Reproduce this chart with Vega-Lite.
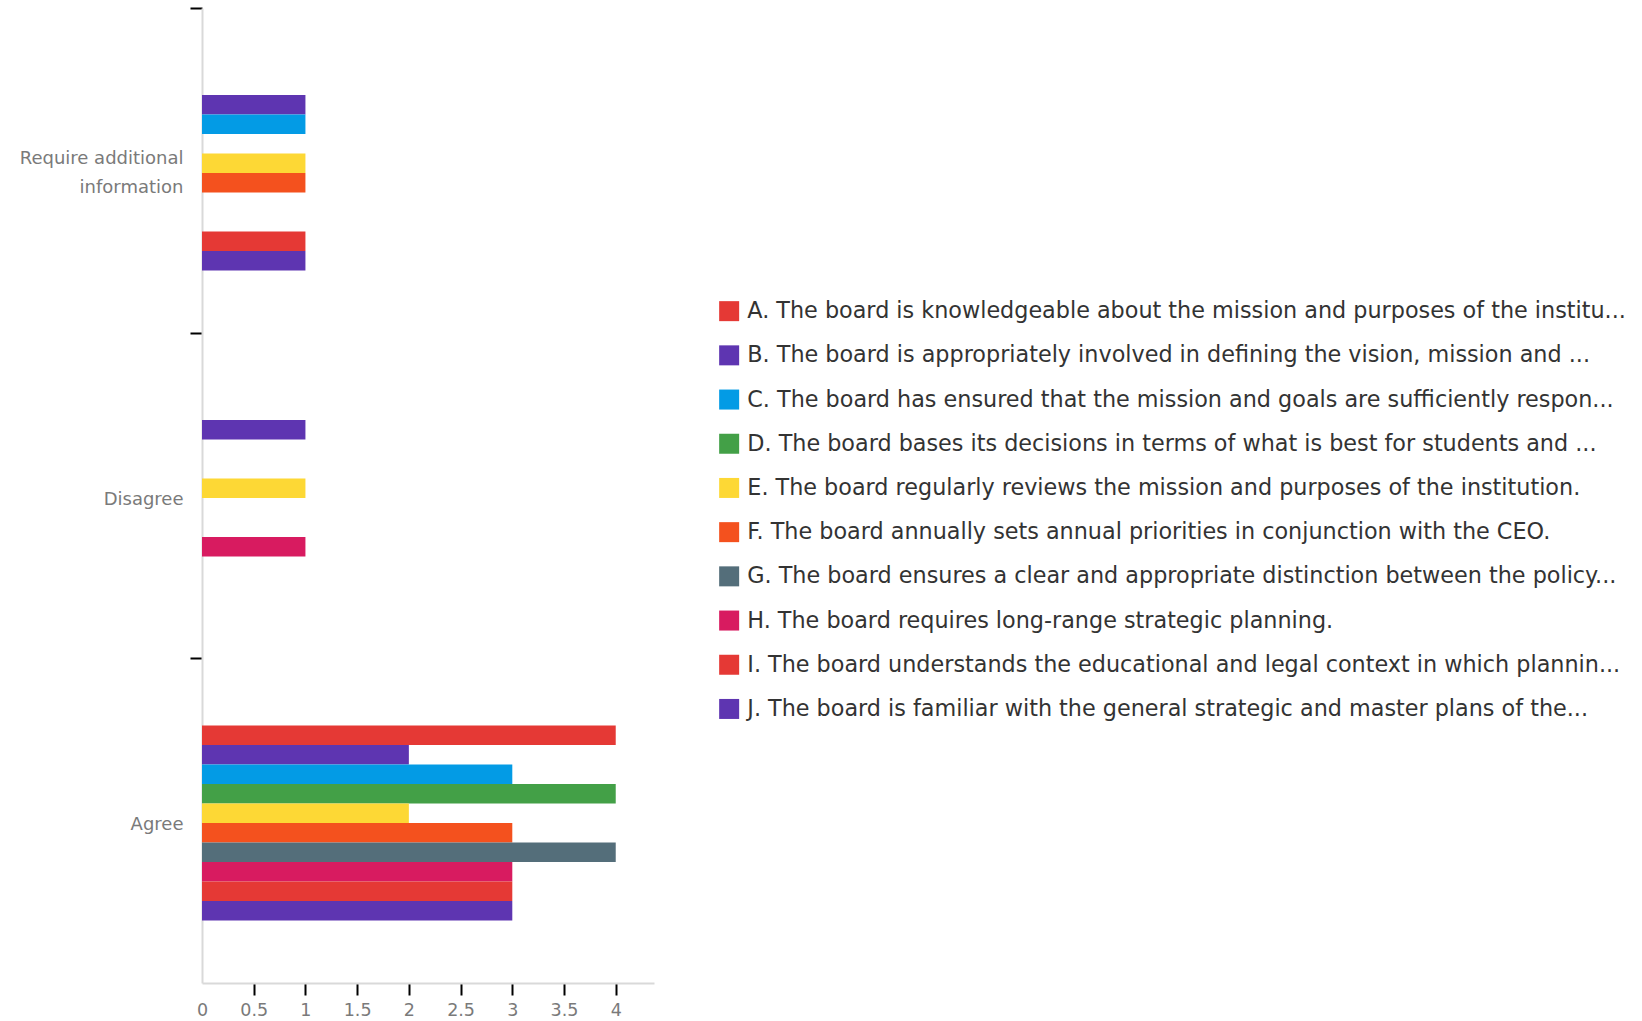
{
  "$schema": "https://vega.github.io/schema/vega-lite/v6.json",
  "width": 452,
  "height": 975,
  "autosize": "none",
  "padding": {"left": 202, "top": 8, "right": 988, "bottom": 38},
  "background": "white",
  "config": {"view": {"stroke": null}, "font": "DejaVu Sans"},
  "data": {
    "values": [
      {"response": "Require additional information", "statement": "B. The board is appropriately involved in defining the vision, mission and ...", "count": 1},
      {"response": "Require additional information", "statement": "C. The board has ensured that the mission and goals are sufficiently respon...", "count": 1},
      {"response": "Require additional information", "statement": "E. The board regularly reviews the mission and purposes of the institution.", "count": 1},
      {"response": "Require additional information", "statement": "F. The board annually sets annual priorities in conjunction with the CEO.", "count": 1},
      {"response": "Require additional information", "statement": "I. The board understands the educational and legal context in which plannin...", "count": 1},
      {"response": "Require additional information", "statement": "J. The board is familiar with the general strategic and master plans of the...", "count": 1},
      {"response": "Disagree", "statement": "B. The board is appropriately involved in defining the vision, mission and ...", "count": 1},
      {"response": "Disagree", "statement": "E. The board regularly reviews the mission and purposes of the institution.", "count": 1},
      {"response": "Disagree", "statement": "H. The board requires long-range strategic planning.", "count": 1},
      {"response": "Agree", "statement": "A. The board is knowledgeable about the mission and purposes of the institu...", "count": 4},
      {"response": "Agree", "statement": "B. The board is appropriately involved in defining the vision, mission and ...", "count": 2},
      {"response": "Agree", "statement": "C. The board has ensured that the mission and goals are sufficiently respon...", "count": 3},
      {"response": "Agree", "statement": "D. The board bases its decisions in terms of what is best for students and ...", "count": 4},
      {"response": "Agree", "statement": "E. The board regularly reviews the mission and purposes of the institution.", "count": 2},
      {"response": "Agree", "statement": "F. The board annually sets annual priorities in conjunction with the CEO.", "count": 3},
      {"response": "Agree", "statement": "G. The board ensures a clear and appropriate distinction between the policy...", "count": 4},
      {"response": "Agree", "statement": "H. The board requires long-range strategic planning.", "count": 3},
      {"response": "Agree", "statement": "I. The board understands the educational and legal context in which plannin...", "count": 3},
      {"response": "Agree", "statement": "J. The board is familiar with the general strategic and master plans of the...", "count": 3}
    ]
  },
  "mark": {"type": "bar"},
  "encoding": {
    "y": {
      "field": "response",
      "type": "nominal",
      "sort": ["Require additional information", "Disagree", "Agree"],
      "scale": {"paddingInner": 0, "paddingOuter": 0},
      "axis": {
        "title": null,
        "bandPosition": 0,
        "labelExpr": "datum.value == 'Require additional information' ? ['Require additional', 'information'] : datum.label",
        "labelOffset": {"condition": {"test": "datum.value == 'Require additional information'", "value": -11.5}, "value": 4},
        "labelFontSize": 18,
        "labelColor": "#7a7a7a",
        "labelLineHeight": 29,
        "labelPadding": 7,
        "tickColor": "#000000",
        "tickWidth": 2,
        "tickSize": 12,
        "domainColor": "#d9d9d9",
        "domainWidth": 2,
        "grid": false
      }
    },
    "yOffset": {
      "field": "statement",
      "type": "nominal",
      "scale": {
        "domain": [
          "_p1", "_p2", "_p3",
          "A. The board is knowledgeable about the mission and purposes of the institu...",
          "B. The board is appropriately involved in defining the vision, mission and ...",
          "C. The board has ensured that the mission and goals are sufficiently respon...",
          "D. The board bases its decisions in terms of what is best for students and ...",
          "E. The board regularly reviews the mission and purposes of the institution.",
          "F. The board annually sets annual priorities in conjunction with the CEO.",
          "G. The board ensures a clear and appropriate distinction between the policy...",
          "H. The board requires long-range strategic planning.",
          "I. The board understands the educational and legal context in which plannin...",
          "J. The board is familiar with the general strategic and master plans of the...",
          "_p4", "_p5", "_p6"
        ],
        "paddingInner": 0,
        "paddingOuter": 0.333,
        "align": 0.7
      }
    },
    "x": {
      "field": "count",
      "type": "quantitative",
      "scale": {"domain": [0, 4.37], "nice": false},
      "axis": {
        "title": null,
        "values": [0, 0.5, 1, 1.5, 2, 2.5, 3, 3.5, 4],
        "format": "~g",
        "labelFlush": false,
        "labelFontSize": 17.5,
        "labelColor": "#7a7a7a",
        "labelPadding": 6,
        "tickColor": {"condition": {"test": "datum.value == 0", "value": "transparent"}, "value": "#000000"},
        "tickWidth": 2,
        "tickSize": 12,
        "domainColor": "#d9d9d9",
        "domainWidth": 2,
        "grid": false
      }
    },
    "color": {
      "field": "statement",
      "type": "nominal",
      "scale": {
        "domain": [
          "A. The board is knowledgeable about the mission and purposes of the institu...",
          "B. The board is appropriately involved in defining the vision, mission and ...",
          "C. The board has ensured that the mission and goals are sufficiently respon...",
          "D. The board bases its decisions in terms of what is best for students and ...",
          "E. The board regularly reviews the mission and purposes of the institution.",
          "F. The board annually sets annual priorities in conjunction with the CEO.",
          "G. The board ensures a clear and appropriate distinction between the policy...",
          "H. The board requires long-range strategic planning.",
          "I. The board understands the educational and legal context in which plannin...",
          "J. The board is familiar with the general strategic and master plans of the..."
        ],
        "range": ["#E53935", "#5E35B1", "#039BE5", "#43A047", "#FDD835", "#F4511E", "#546E7A", "#D81B60", "#E53935", "#5E35B1"]
      },
      "legend": {
        "title": null,
        "orient": "none",
        "legendX": 516,
        "legendY": 292,
        "padding": 0,
        "symbolType": "square",
        "symbolSize": 400,
        "symbolStrokeWidth": 0,
        "labelFontSize": 22.3,
        "labelColor": "#333333",
        "labelOffset": 7,
        "labelLimit": 1000,
        "rowPadding": 21.2
      }
    }
  }
}
